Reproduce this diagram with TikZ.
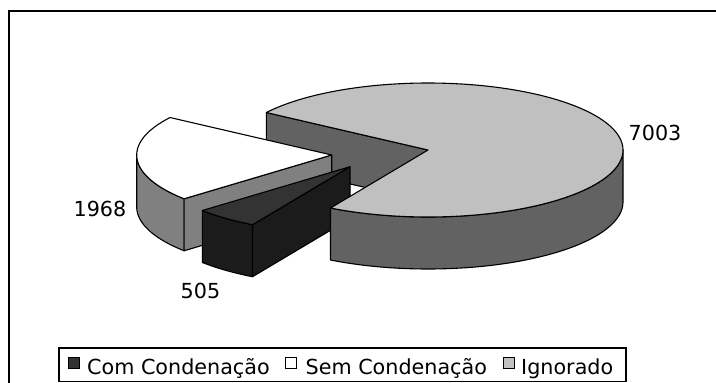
\documentclass[tikz,border=0pt]{standalone}
\usepackage{fontspec}
\setmainfont{DejaVu Sans}
\usetikzlibrary{calc}
\definecolor{bigtop}{HTML}{C0C0C0}
\definecolor{bigside}{HTML}{626262}
\definecolor{whiteside}{HTML}{808080}
\definecolor{blacktop}{HTML}{333333}
\definecolor{blackside}{HTML}{1B1B1B}
\tikzset{
  face/.style={draw=black, line width=1.1pt, line join=round},
  lbl/.style={inner sep=0pt, font=\fontsize{20.7}{24}\selectfont},
  legsq/.style={draw=black, line width=1pt},
}
\begin{document}
\begin{tikzpicture}[x=1pt,y=-1pt]
\useasboundingbox (0,0) rectangle (716,383);
\clip (0,0) rectangle (716,383);
\fill[white] (0,0) rectangle (716,383);
% outer frame (right and bottom edges lie outside the picture)
\draw[line width=2pt] (9,11) rectangle (760,420);
% ---- big slice: inner radial face at 146 deg
\def\rx{195}\def\ry{67}\def\hh{52}
\coordinate (C) at (428,150);
\coordinate (W) at (331.7,155);
\coordinate (B) at (350,166.7);
\filldraw[face, fill=bigside] (C) -- ({428+\rx*cos(146)},{150-\ry*sin(146)}) -- ++(0,\hh) -- ($(C)+(0,\hh)$) -- cycle;
% ---- white slice (Sem Condenacao), 146 -> 220.8
\filldraw[face, fill=whiteside] plot[domain=180:220.8, samples=30] ({331.7+\rx*cos(\x)},{155-\ry*sin(\x)}) -- plot[domain=220.8:180, samples=30] ({331.7+\rx*cos(\x)},{155+\hh-\ry*sin(\x)}) -- cycle;
\filldraw[face, fill=whiteside] ({331.7+\rx*cos(220.8)},{155-\ry*sin(220.8)}) -- (W) -- ($(W)+(0,\hh)$) -- ({331.7+\rx*cos(220.8)},{155+\hh-\ry*sin(220.8)}) -- cycle;
\filldraw[face, fill=white] (W) -- plot[domain=146:220.8, samples=50] ({331.7+\rx*cos(\x)},{155-\ry*sin(\x)}) -- cycle;
% ---- black slice (Com Condenacao), 220.8 -> 240
\filldraw[face, fill=blackside] plot[domain=220.8:240, samples=20] ({350+\rx*cos(\x)},{166.7-\ry*sin(\x)}) -- plot[domain=240:220.8, samples=20] ({350+\rx*cos(\x)},{166.7+\hh-\ry*sin(\x)}) -- cycle;
\filldraw[face, fill=blackside] ({350+\rx*cos(240)},{166.7-\ry*sin(240)}) -- (B) -- ($(B)+(0,\hh)$) -- ({350+\rx*cos(240)},{166.7+\hh-\ry*sin(240)}) -- cycle;
\filldraw[face, fill=blacktop] (B) -- plot[domain=220.8:240, samples=20] ({350+\rx*cos(\x)},{166.7-\ry*sin(\x)}) -- cycle;
% ---- big slice (Ignorado), 240 -> 506
\filldraw[face, fill=bigside] plot[domain=240:360, samples=80] ({428+\rx*cos(\x)},{150-\ry*sin(\x)}) -- plot[domain=360:240, samples=80] ({428+\rx*cos(\x)},{150+\hh-\ry*sin(\x)}) -- cycle;
\filldraw[face, fill=bigtop] (C) -- plot[domain=240:506, samples=150] ({428+\rx*cos(\x)},{150-\ry*sin(\x)}) -- cycle;
% ---- value labels
\node[lbl, anchor=base west] (v7003) at (628.5,140) {7003};
\node[lbl, anchor=base east] (v1968) at (126.5,216.5) {1968};
\node[lbl, anchor=base west] (v505) at (180.5,298.3) {505};
% ---- legend
\draw[line width=1.3pt] (59,348) rectangle (626,381.5);
\filldraw[legsq, fill=blacktop] (68,357.5) rectangle (79,368.5);
\node[lbl, anchor=base west] (lcom) at (87,374) {Com Condenação};
\filldraw[legsq, fill=white] (285.5,357.5) rectangle (296.5,368.5);
\node[lbl, anchor=base west] (lsem) at (305.5,374) {Sem Condenação};
\filldraw[legsq, fill=bigtop] (503.5,357.5) rectangle (514.5,368.5);
\node[lbl, anchor=base west] (lign) at (521,374) {Ignorado};
\end{tikzpicture}
\end{document}
